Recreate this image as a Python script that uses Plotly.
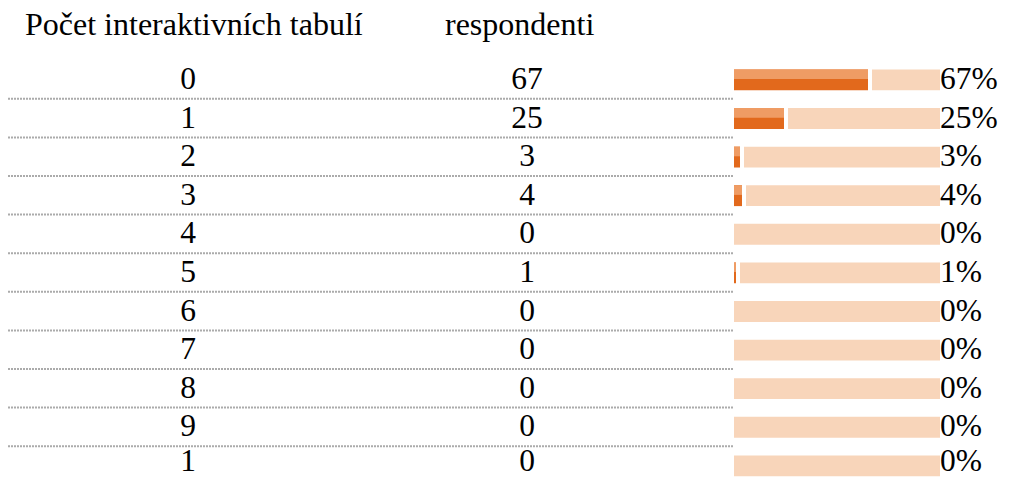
import plotly.graph_objects as go

# data
boards = ["0", "1", "2", "3", "4", "5", "6", "7", "8", "9", "1"]
respondents = [67, 25, 3, 4, 0, 1, 0, 0, 0, 0, 0]
percent = [67, 25, 3, 4, 0, 1, 0, 0, 0, 0, 0]

header_boards = "Počet interaktivních tabulí"
header_resp = "respondenti"

W, H = 1018, 481
ROW0, PITCH = 79.5, 38.6
TRACK = 103  # full bar length in bar units (1 unit = 2 px)
GAP = 2

FONT = "Liberation Serif, Times New Roman, serif"
SIZE = 31.5
DARK = "#E2691C"
SHINE = "#EF9C64"
PALE = "#F8D5BA"

rows = list(range(len(boards)))
# glyphs sit a touch low in the cells, except the last one that meets the edge
text_y = [r + 0.04 for r in rows[:-1]] + [rows[-1] - 0.05]

fig = go.Figure()

# dotted separators between rows
sx, sy = [], []
for r in rows[:-1]:
    sx += [8, W, None]
    sy += [r + 0.5, r + 0.5, None]
fig.add_trace(go.Scatter(
    x=sx, y=sy, mode="lines", hoverinfo="skip",
    line=dict(color="#ABABAB", width=2, dash="2px,1px"),
))

# text columns
fig.add_trace(go.Scatter(
    x=[188] * len(rows), y=text_y, text=boards, mode="text",
    textposition="middle center", textfont=dict(family=FONT, size=SIZE, color="black"),
    hoverinfo="skip", cliponaxis=False,
))
fig.add_trace(go.Scatter(
    x=[527] * len(rows), y=text_y, text=[str(v) for v in respondents], mode="text",
    textposition="middle center", textfont=dict(family=FONT, size=SIZE, color="black"),
    hoverinfo="skip", cliponaxis=False,
))

# bars: orange share + pale remainder
light_base = [p + GAP if p > 0 else 0 for p in percent]
light_len = [TRACK - b for b in light_base]

fig.add_trace(go.Bar(
    x=light_len, base=light_base, y=rows, orientation="h",
    width=0.54, offset=-0.26, marker=dict(color=PALE, line_width=0),
    xaxis="x2", hoverinfo="skip",
))
fig.add_trace(go.Bar(
    x=percent, base=[0] * len(rows), y=rows, orientation="h",
    width=0.54, offset=-0.26, marker=dict(color=DARK, line_width=0),
    xaxis="x2", hoverinfo="skip",
))
fig.add_trace(go.Bar(
    x=percent, base=[0] * len(rows), y=rows, orientation="h",
    width=0.25, offset=-0.26, marker=dict(color=SHINE, line_width=0),
    xaxis="x2", hoverinfo="skip",
))

# percent labels right after the track
fig.add_trace(go.Scatter(
    x=[TRACK] * len(rows), y=text_y, text=[f"{p}%" for p in percent], mode="text",
    textposition="middle right", textfont=dict(family=FONT, size=SIZE, color="black"),
    xaxis="x2", hoverinfo="skip", cliponaxis=False,
))

top = -ROW0 / PITCH
bottom = (H - ROW0) / PITCH

fig.update_layout(
    width=W, height=H,
    margin=dict(l=0, r=0, t=0, b=0),
    paper_bgcolor="white", plot_bgcolor="white",
    showlegend=False, barmode="overlay",
    xaxis=dict(range=[0, W], domain=[0, 1], visible=False, fixedrange=True),
    xaxis2=dict(range=[0, (W - 734) / 2], domain=[734 / W, 1], visible=False,
                anchor="y", fixedrange=True),
    yaxis=dict(range=[bottom, top], visible=False, fixedrange=True),
    annotations=[
        dict(text=header_boards, x=194, y=(24 - ROW0) / PITCH, xref="x", yref="y",
             showarrow=False, font=dict(family=FONT, size=32, color="black")),
        dict(text=header_resp, x=519, y=(24 - ROW0) / PITCH, xref="x", yref="y",
             showarrow=False, font=dict(family=FONT, size=32, color="black")),
    ],
)

fig.write_html("out.html", config={"displayModeBar": False},
               post_script="document.body.style.margin='0';")
